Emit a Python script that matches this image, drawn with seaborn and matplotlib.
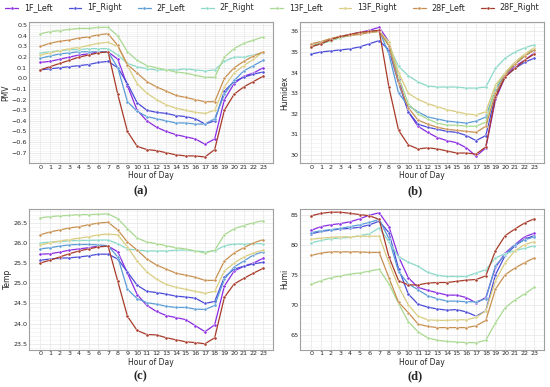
import numpy as np
import pandas as pd
import matplotlib
matplotlib.use("Agg")
import matplotlib.pyplot as plt
import seaborn as sns

hours = list(range(24))
locations = ["1F_Left", "1F_Right", "2F_Left", "2F_Right",
             "13F_Left", "13F_Right", "28F_Left", "28F_Right"]
colors = ["#8a2be2", "#4a4ad8", "#5a9bd5", "#8ad8c8",
          "#a8d890", "#d8cc80", "#c89050", "#a83a2a"]

# PMV values per location
pmv = {
    "1F_Left":   [0.15, 0.16, 0.18, 0.20, 0.22, 0.23, 0.25, 0.25, 0.18, -0.07, -0.30, -0.40, -0.46, -0.50, -0.53, -0.55, -0.57, -0.62, -0.57, -0.20, -0.05, 0.02, 0.05, 0.10],
    "1F_Right":  [0.08, 0.09, 0.10, 0.11, 0.12, 0.13, 0.15, 0.16, 0.10, -0.05, -0.23, -0.30, -0.32, -0.33, -0.35, -0.36, -0.38, -0.43, -0.40, -0.12, -0.03, 0.01, 0.04, 0.06],
    "2F_Left":   [0.19, 0.21, 0.23, 0.24, 0.25, 0.25, 0.25, 0.25, 0.10, -0.22, -0.31, -0.36, -0.38, -0.40, -0.42, -0.42, -0.43, -0.43, -0.38, -0.15, -0.02, 0.07, 0.12, 0.17],
    "2F_Right":  [0.24, 0.25, 0.26, 0.27, 0.27, 0.28, 0.28, 0.28, 0.22, 0.14, 0.11, 0.09, 0.08, 0.08, 0.08, 0.09, 0.08, 0.07, 0.08, 0.16, 0.20, 0.20, 0.22, 0.24],
    "13F_Left":  [0.42, 0.44, 0.45, 0.46, 0.47, 0.47, 0.48, 0.48, 0.40, 0.25, 0.17, 0.12, 0.10, 0.08, 0.06, 0.05, 0.03, 0.01, 0.01, 0.20, 0.28, 0.33, 0.36, 0.39],
    "13F_Right": [0.22, 0.24, 0.26, 0.28, 0.29, 0.31, 0.33, 0.34, 0.30, 0.12, -0.05, -0.14, -0.20, -0.25, -0.28, -0.30, -0.32, -0.33, -0.30, -0.08, 0.05, 0.12, 0.18, 0.25],
    "28F_Left":  [0.30, 0.33, 0.35, 0.36, 0.38, 0.39, 0.41, 0.42, 0.31, 0.13, 0.05, -0.03, -0.08, -0.12, -0.16, -0.18, -0.20, -0.22, -0.22, 0.00, 0.10, 0.16, 0.21, 0.25],
    "28F_Right": [0.08, 0.11, 0.14, 0.17, 0.20, 0.22, 0.24, 0.25, -0.15, -0.50, -0.64, -0.67, -0.68, -0.70, -0.72, -0.73, -0.73, -0.74, -0.67, -0.30, -0.15, -0.08, -0.03, 0.02],
}

humidex = {
    "1F_Left":   [35.3, 35.4, 35.6, 35.75, 35.85, 35.95, 36.05, 36.2, 35.5, 33.7, 32.1, 31.4, 31.1, 30.85, 30.7, 30.6, 30.35, 29.95, 30.35, 32.7, 33.8, 34.3, 34.6, 34.95],
    "1F_Right":  [34.9, 35.0, 35.05, 35.1, 35.15, 35.25, 35.4, 35.55, 35.1, 33.5, 32.1, 31.5, 31.35, 31.25, 31.15, 31.1, 30.95, 30.7, 30.95, 32.9, 33.8, 34.2, 34.5, 34.7],
    "2F_Left":   [35.3, 35.4, 35.55, 35.7, 35.8, 35.9, 36.0, 36.05, 34.9, 33.0, 32.4, 32.1, 31.85, 31.75, 31.65, 31.6, 31.55, 31.65, 31.85, 33.2, 33.9, 34.4, 34.8, 35.1],
    "2F_Right":  [35.35, 35.45, 35.6, 35.75, 35.85, 35.9, 36.0, 36.0, 35.3, 34.3, 33.85, 33.55, 33.35, 33.3, 33.3, 33.3, 33.25, 33.25, 33.3, 34.2, 34.7, 35.0, 35.2, 35.35],
    "13F_Left":  [35.25, 35.4, 35.55, 35.7, 35.8, 35.9, 35.95, 36.0, 35.4, 33.8, 32.5, 32.0, 31.75, 31.55, 31.45, 31.45, 31.4, 31.4, 31.6, 33.3, 34.0, 34.5, 34.85, 35.15],
    "13F_Right": [35.35, 35.5, 35.65, 35.75, 35.85, 35.9, 35.95, 36.0, 35.5, 34.0, 33.0, 32.7, 32.5, 32.35, 32.2, 32.1, 32.0, 31.95, 32.1, 33.4, 34.0, 34.5, 34.9, 35.2],
    "28F_Left":  [35.4, 35.5, 35.65, 35.75, 35.8, 35.85, 35.95, 36.0, 35.3, 33.5, 32.3, 31.7, 31.5, 31.35, 31.25, 31.2, 31.15, 31.1, 31.4, 33.0, 33.9, 34.4, 34.8, 35.1],
    "28F_Right": [35.25, 35.4, 35.6, 35.75, 35.85, 35.95, 36.0, 36.05, 33.3, 31.2, 30.5, 30.3, 30.35, 30.3, 30.2, 30.1, 30.1, 30.05, 30.4, 32.8, 33.8, 34.2, 34.6, 34.9],
}

temp = {
    "1F_Left":   [25.72, 25.73, 25.77, 25.82, 25.85, 25.88, 25.92, 25.92, 25.78, 25.25, 24.72, 24.45, 24.30, 24.20, 24.15, 24.10, 23.95, 23.80, 23.97, 24.93, 25.30, 25.42, 25.50, 25.62],
    "1F_Right":  [25.57, 25.60, 25.62, 25.63, 25.65, 25.68, 25.72, 25.72, 25.60, 25.28, 24.95, 24.80, 24.77, 24.73, 24.68, 24.66, 24.63, 24.50, 24.55, 25.15, 25.35, 25.42, 25.48, 25.52],
    "2F_Left":   [25.85, 25.88, 25.92, 25.95, 25.96, 25.96, 25.95, 25.93, 25.65, 24.85, 24.62, 24.52, 24.48, 24.43, 24.40, 24.40, 24.36, 24.35, 24.45, 25.10, 25.40, 25.55, 25.70, 25.78],
    "2F_Right":  [26.00, 26.02, 26.03, 26.05, 26.06, 26.06, 26.07, 26.07, 25.98, 25.85, 25.82, 25.80, 25.80, 25.80, 25.82, 25.82, 25.80, 25.78, 25.80, 25.93, 25.97, 25.97, 25.98, 25.98],
    "13F_Left":  [26.62, 26.65, 26.67, 26.68, 26.70, 26.70, 26.71, 26.72, 26.60, 26.35, 26.12, 26.02, 25.98, 25.93, 25.88, 25.85, 25.80, 25.75, 25.82, 26.20, 26.35, 26.43, 26.50, 26.55],
    "13F_Right": [25.95, 26.00, 26.05, 26.08, 26.12, 26.15, 26.20, 26.22, 26.20, 25.90, 25.55, 25.28, 25.10, 24.97, 24.90, 24.85, 24.80, 24.75, 24.80, 25.30, 25.50, 25.65, 25.75, 25.82],
    "28F_Left":  [26.20, 26.27, 26.32, 26.37, 26.40, 26.45, 26.49, 26.51, 26.32, 26.02, 25.82, 25.60, 25.45, 25.35, 25.25, 25.20, 25.15, 25.07, 25.07, 25.55, 25.75, 25.88, 26.00, 26.08],
    "28F_Right": [25.50, 25.57, 25.65, 25.73, 25.80, 25.85, 25.90, 25.92, 25.05, 24.18, 23.83, 23.73, 23.72, 23.65, 23.60, 23.55, 23.53, 23.50, 23.65, 24.65, 24.98, 25.12, 25.25, 25.37],
}

humi = {
    "1F_Left":   [82.4, 83.0, 83.3, 83.5, 83.8, 84.3, 84.9, 85.3, 83.0, 78.0, 74.5, 72.9, 72.4, 72.0, 71.6, 71.6, 71.2, 70.3, 71.2, 76.2, 78.6, 80.0, 81.3, 81.9],
    "1F_Right":  [81.8, 82.2, 82.4, 82.6, 82.7, 82.9, 83.3, 83.9, 82.0, 76.0, 71.8, 70.1, 69.6, 69.3, 69.1, 69.2, 68.8, 68.1, 69.0, 75.0, 78.2, 79.8, 80.9, 81.5],
    "2F_Left":   [82.0, 82.3, 82.5, 82.7, 83.0, 83.3, 83.7, 84.2, 81.0, 75.5, 73.5, 72.5, 71.5, 71.0, 70.6, 70.6, 70.5, 70.5, 71.0, 76.5, 78.3, 80.0, 80.8, 81.3],
    "2F_Right":  [80.3, 80.7, 81.0, 81.1, 81.2, 81.5, 81.8, 82.8, 80.5, 78.0, 77.1, 76.4, 75.4, 74.9, 74.7, 74.7, 74.7, 75.3, 75.8, 77.8, 78.5, 79.0, 79.4, 79.8],
    "13F_Left":  [73.4, 74.0, 74.5, 74.8, 75.1, 75.3, 75.6, 75.9, 73.5, 70.2, 67.2, 65.5, 64.5, 64.1, 63.9, 63.8, 63.7, 63.7, 64.1, 67.0, 69.5, 70.8, 71.8, 72.9],
    "13F_Right": [80.9, 81.1, 81.2, 81.3, 81.3, 81.4, 81.4, 81.4, 77.0, 73.0, 70.0, 68.1, 67.5, 67.4, 67.4, 67.5, 67.5, 67.9, 69.0, 74.0, 77.0, 79.0, 80.0, 80.5],
    "28F_Left":  [78.2, 78.6, 78.8, 78.8, 78.8, 78.8, 78.7, 78.7, 74.5, 70.4, 68.7, 66.8, 66.4, 66.2, 66.2, 66.2, 66.2, 66.5, 67.4, 72.6, 75.0, 76.1, 77.0, 77.8],
    "28F_Right": [84.8, 85.2, 85.4, 85.4, 85.2, 85.0, 84.8, 84.2, 78.0, 74.0, 73.3, 73.3, 73.6, 73.7, 73.7, 73.9, 74.1, 74.2, 74.8, 79.0, 81.5, 82.6, 83.6, 84.3],
}

panels = [("PMV", pmv, "(a)"), ("Humidex", humidex, "(b)"),
          ("Temp", temp, "(c)"), ("Humi", humi, "(d)")]


def to_long(d):
    rows = []
    for loc in locations:
        for h, v in zip(hours, d[loc]):
            rows.append({"Hour": h, "Location": loc, "Value": v})
    return pd.DataFrame(rows)


sns.set_style("whitegrid")
plt.rcParams["font.family"] = ["DejaVu Sans"]

fig, axes = plt.subplots(2, 2, figsize=(5.5, 3.87), dpi=100)
fig.subplots_adjust(left=0.052, right=0.989, top=0.943, bottom=0.096,
                    wspace=0.11, hspace=0.32)

palette = dict(zip(locations, colors))
label_pos = [(0.255, 0.505), (0.755, 0.505), (0.255, 0.028), (0.755, 0.028)]

for ax, (name, d, tag), (lx, ly) in zip(axes.flat, panels, label_pos):
    df = to_long(d)
    sns.lineplot(data=df, x="Hour", y="Value", hue="Location", palette=palette,
                 marker="o", markersize=2.2, markeredgewidth=0.3,
                 linewidth=0.9, ax=ax, legend=(name == "PMV"))
    ax.set_xticks(hours)
    ax.set_xlim(-1.2, 24)
    ax.set_xlabel("Hour of Day", fontsize=5.5, labelpad=1)
    ax.set_ylabel(name, fontsize=5.5, labelpad=1)
    ax.tick_params(labelsize=4.6, pad=1, length=0)
    ax.minorticks_on()
    ax.xaxis.set_minor_locator(matplotlib.ticker.NullLocator())
    ax.grid(which="major", color="#e4e4e4", linewidth=0.5)
    ax.grid(which="minor", axis="y", color="#f0f0f0", linewidth=0.4)
    ax.tick_params(which="minor", length=0)
    for s in ax.spines.values():
        s.set_color("#a0a0a0")
        s.set_linewidth(0.8)
    fig.text(lx, ly, tag, fontsize=9, fontweight="bold",
             family="Liberation Serif", ha="center", va="center")

axes[0, 0].set_yticks(np.arange(-0.7, 0.51, 0.1))
axes[0, 0].set_ylim(-0.8, 0.53)
axes[0, 1].set_ylim(29.6, 36.45)
axes[1, 0].set_yticks(np.arange(23.5, 26.6, 0.5))
axes[1, 0].set_ylim(23.35, 26.85)
axes[1, 1].set_yticks([65, 70, 75, 80, 85])
axes[1, 1].set_ylim(62.5, 86.0)

handles, labels = axes[0, 0].get_legend_handles_labels()
axes[0, 0].get_legend().remove()
fig.legend(handles, labels, loc="upper center", bbox_to_anchor=(0.495, 1.01),
           ncol=8, frameon=False, fontsize=5.8, handlelength=1.6,
           columnspacing=2.0, handletextpad=0.7)

plt.savefig("out.png", dpi=100)
